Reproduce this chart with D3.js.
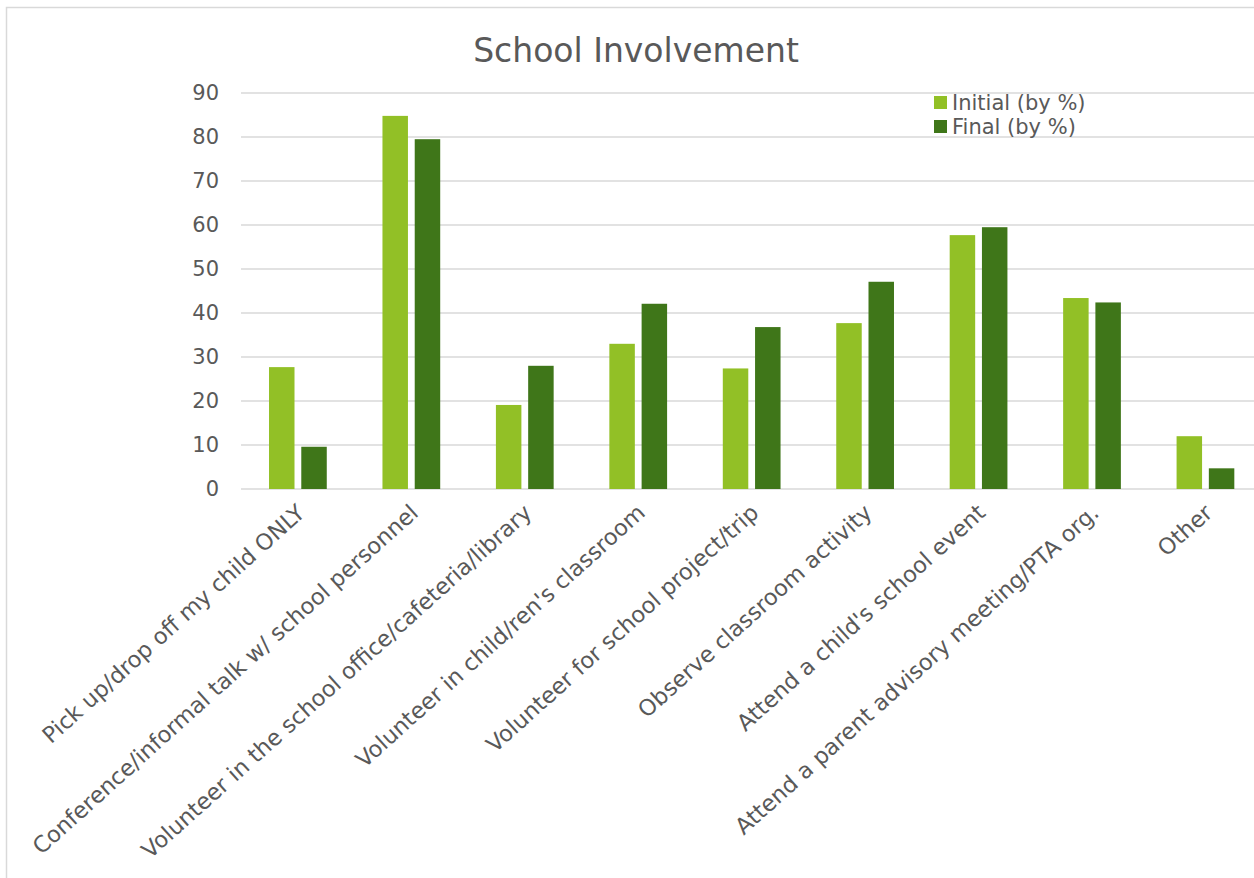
<!DOCTYPE html>
<html>
<head>
<meta charset="utf-8">
<script src="https://cdn.jsdelivr.net/npm/d3@7"></script>
<style>
  body { margin: 0; background: #fff; }
  svg { display: block; font-family: "DejaVu Sans", sans-serif; }
</style>
</head>
<body>
<div id="chart"></div>
<script>
// data
const categories = [
  "Pick up/drop off my child ONLY",
  "Conference/informal talk w/ school personnel",
  "Volunteer in the school office/cafeteria/library",
  "Volunteer in child/ren's classroom",
  "Volunteer for school project/trip",
  "Observe classroom activity",
  "Attend a child's school event",
  "Attend a parent advisory meeting/PTA org.",
  "Other"
];
const seriesNames = ["Initial (by %)", "Final (by %)"];
const initialValues = [27.7, 84.8, 19.1, 33.0, 27.4, 37.7, 57.7, 43.4, 12.0];
const finalValues = [9.6, 79.5, 28.0, 42.1, 36.8, 47.1, 59.5, 42.4, 4.7];
const yTicks = [0, 10, 20, 30, 40, 50, 60, 70, 80, 90];
const colors = ["#92c026", "#3f7619"];

const width = 1254, height = 878;
const margin = { top: 93, right: -8, bottom: 389, left: 241 };
const textColor = "#595959";
const gridColor = "#d9d9d9";

const svg = d3.select("#chart").append("svg")
    .attr("width", width)
    .attr("height", height);

// chart border (cut off on right and bottom like the reference)
svg.append("rect")
    .attr("x", 6.5).attr("y", 7.5)
    .attr("width", 1270).attr("height", 890)
    .attr("fill", "none")
    .attr("stroke", gridColor)
    .attr("stroke-width", 1.5);

const x0 = d3.scaleBand()
    .domain(categories)
    .range([margin.left, width - margin.right]);

const bw = x0.bandwidth();
const x1 = d3.scaleBand()
    .domain(seriesNames)
    .range([bw * 0.247, bw * 0.756])
    .paddingInner(0.21);

const y = d3.scaleLinear()
    .domain([0, 90])
    .range([height - margin.bottom, margin.top]);

// gridlines
svg.append("g")
    .selectAll("line")
    .data(yTicks)
    .join("line")
    .attr("x1", margin.left)
    .attr("x2", width)
    .attr("y1", d => y(d))
    .attr("y2", d => y(d))
    .attr("stroke", gridColor)
    .attr("stroke-width", 1.5);

// y tick labels
svg.append("g")
    .selectAll("text")
    .data(yTicks)
    .join("text")
    .attr("x", 219)
    .attr("y", d => y(d))
    .attr("dy", "0.35em")
    .attr("text-anchor", "end")
    .attr("fill", textColor)
    .style("font-size", "21px")
    .text(d => d);

// bars
const rows = categories.map((c, i) => ({ cat: c, vals: [initialValues[i], finalValues[i]] }));

svg.append("g")
    .selectAll("g")
    .data(rows)
    .join("g")
    .attr("transform", d => `translate(${x0(d.cat)},0)`)
    .selectAll("rect")
    .data(d => d.vals.map((v, j) => ({ name: seriesNames[j], v, j })))
    .join("rect")
    .attr("x", d => x1(d.name))
    .attr("width", x1.bandwidth())
    .attr("y", d => y(d.v))
    .attr("height", d => y(0) - y(d.v))
    .attr("fill", d => colors[d.j]);

// x labels, rotated
svg.append("g")
    .selectAll("text")
    .data(categories)
    .join("text")
    .attr("transform", d => `translate(${x0(d) + bw / 2 - 2},${y(0) + 14}) rotate(-42)`)
    .attr("text-anchor", "end")
    .attr("dy", "0.7em")
    .attr("fill", textColor)
    .style("font-size", "22.5px")
    .text(d => d);

// title
svg.append("text")
    .attr("x", 636)
    .attr("y", 62)
    .attr("text-anchor", "middle")
    .attr("fill", textColor)
    .style("font-size", "33px")
    .text("School Involvement");

// legend
const legend = svg.append("g")
    .selectAll("g")
    .data(seriesNames)
    .join("g")
    .attr("transform", (d, i) => `translate(934,${96 + i * 24})`);

legend.append("rect")
    .attr("width", 13).attr("height", 13)
    .attr("fill", (d, i) => colors[i]);

legend.append("text")
    .attr("x", 18)
    .attr("y", 7)
    .attr("dy", "0.35em")
    .attr("fill", textColor)
    .style("font-size", "21px")
    .text(d => d);
</script>
</body>
</html>
